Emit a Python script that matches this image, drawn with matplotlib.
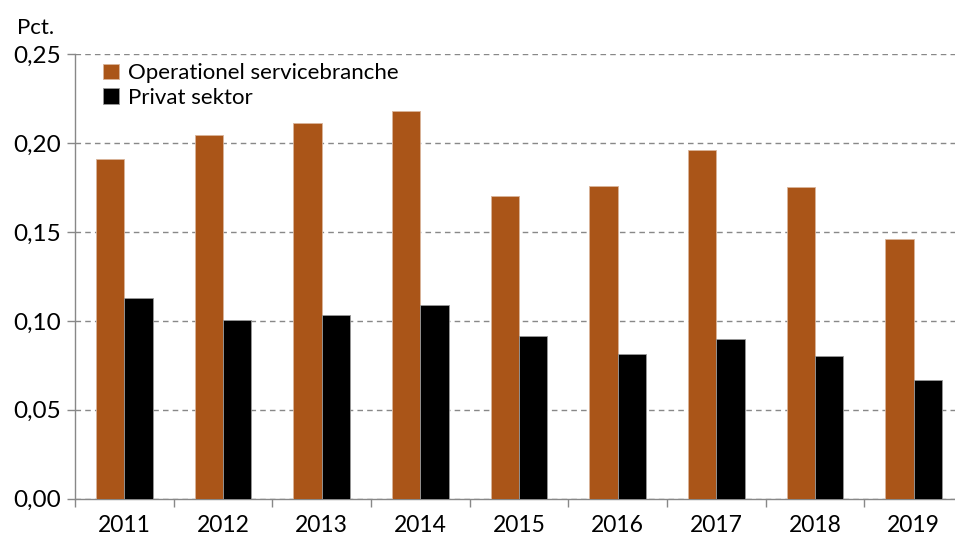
import matplotlib.pyplot as plt
import numpy as np

years = ['2011', '2012', '2013', '2014', '2015', '2016', '2017', '2018', '2019']
operationel = [0.1914, 0.2048, 0.2114, 0.2181, 0.1706, 0.1759, 0.1965, 0.1753, 0.1461]
privat = [0.1130, 0.1006, 0.1033, 0.1092, 0.0914, 0.0816, 0.0899, 0.0802, 0.0668]

plt.rcParams['font.family'] = ['Lato', 'DejaVu Sans']

fig = plt.figure(figsize=(9.55, 5.39), dpi=100)
ax = fig.add_axes([0.0785, 0.0748, 0.930, 0.8242])

x = np.arange(len(years))
w = 0.287
ax.bar(x - w / 2, operationel, w, color='#AA5518', edgecolor='#D9B49A', linewidth=0.6,
       label='Operationel servicebranche', zorder=3)
ax.bar(x + w / 2, privat, w, color='black', edgecolor='#999999', linewidth=0.6,
       label='Privat sektor', zorder=3)

ax.set_xlim(-0.5, len(years) - 0.5)
ax.set_ylim(0, 0.25)
ax.set_yticks(np.arange(0, 0.2501, 0.05))
ax.set_yticklabels([f'{v:.2f}'.replace('.', ',') for v in np.arange(0, 0.2501, 0.05)])
ax.set_xticks(x)
ax.set_xticklabels(years)
ax.set_xticks(np.arange(-0.5, len(years), 1), minor=True)
ax.tick_params(axis='x', which='major', length=0, pad=12, labelsize=16.5)
ax.tick_params(axis='x', which='minor', length=6, color='#888888', width=1)
ax.tick_params(axis='y', length=6, color='#888888', width=1, pad=4, labelsize=17.5)

ax.grid(axis='y', linestyle=(0, (4, 3)), color='#888888', linewidth=1, zorder=0)
for s in ['top', 'right']:
    ax.spines[s].set_visible(False)
for s in ['left', 'bottom']:
    ax.spines[s].set_color('#888888')
    ax.spines[s].set_linewidth(1)

fig.text(0.018, 0.948, 'Pct.', fontsize=16, va='center', ha='left')

ax.legend(loc='upper left', bbox_to_anchor=(0.022, 1.0), frameon=False, fontsize=16,
          handlelength=0.7, handleheight=0.7, handletextpad=0.4, labelspacing=0.2,
          borderaxespad=0)

fig.savefig('out.png', dpi=100)
